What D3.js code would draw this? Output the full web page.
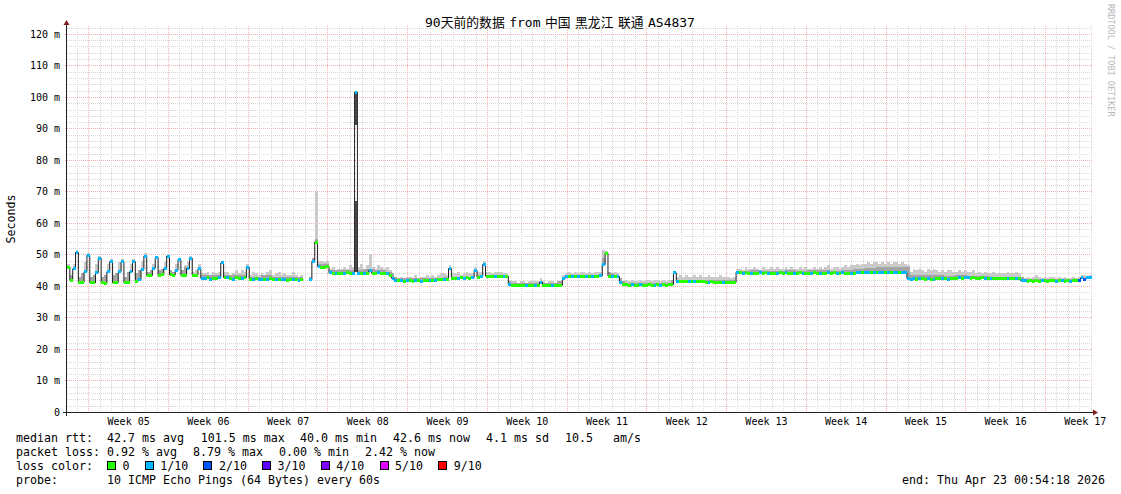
<!DOCTYPE html>
<html><head><meta charset="utf-8">
<script src="https://cdn.jsdelivr.net/npm/d3@7"></script>
<style>html,body{margin:0;padding:0;background:#fff;overflow:hidden}svg{display:block}</style>
</head><body>
<svg id="chart" width="1121" height="494"></svg>
<script>
// ================= DATA =================
const totalDays = 90;          // graph span (days)
const stepHours = 6;           // one sample every 6 hours
const firstWeekDay = 1.87;     // first week boundary, days after graph start

// median RTT (ms), 4 samples per day
const medianRtt = [
46.0,41.8,45.4,50.6, 41.2,41.2,44.5,49.8, 41.0,41.0,44.2,48.8, 41.0,40.8,44.5,47.7,
41.0,41.0,44.6,47.7, 41.0,41.2,44.5,47.7, 41.5,42.0,45.2,49.5, 43.3,43.3,45.6,49.0,
43.3,43.5,45.5,49.5, 43.5,43.4,45.0,48.3, 43.4,43.4,45.5,48.8, 43.4,43.4,45.4,42.4,
42.4,42.6,42.2,42.4, 42.4,42.6,47.3,42.6, 42.6,42.4,42.2,42.6, 42.4,42.4,42.6,46.0,
42.2,42.2,42.4,42.2, 42.2,42.0,42.2,42.4, 42.0,42.0,42.2,42.0, 42.0,41.8,42.0,42.2,
42.0,41.8,42.0,null, null,42.0,47.8,53.9, 46.2,46.0,46.0,46.2, 44.2,44.1,44.1,43.9,
44.1,44.0,44.2,44.0, 44.1,101.5,44.0,44.0, 44.0,44.1,45.0,44.1, 44.0,44.2,44.0,44.0,
44.0,43.4,42.4,41.8, 41.6,41.6,41.4,41.6, 41.6,41.4,41.6,41.6, 41.4,41.6,41.6,41.8,
41.6,41.8,42.0,42.0, 42.2,42.2,45.5,42.4, 42.4,42.4,42.6,42.4, 42.6,42.4,42.6,45.0,
42.8,43.0,46.8,43.1, 43.1,43.1,43.0,43.1, 43.1,43.0,43.1,40.5, 40.2,40.2,40.0,40.2,
40.2,40.0,40.2,40.2, 40.2,40.2,41.2,40.2, 40.0,40.2,40.2,40.0, 40.2,40.2,42.4,43.1,
43.1,43.0,43.1,43.1, 43.1,43.1,43.0,43.1, 43.1,43.0,43.1,43.2, 46.8,50.4,43.1,43.0,
43.1,43.0,41.0,40.4, 40.4,40.2,40.4,40.2, 40.2,40.4,40.2,40.2, 40.4,40.2,40.2,40.4,
40.2,40.4,40.2,40.4, 40.4,44.2,41.4,41.5, 41.5,41.5,41.4,41.5, 41.5,41.3,41.5,41.5,
41.2,41.2,41.4,41.2, 41.2,41.2,41.0,41.2, 41.2,41.0,41.2,44.4, 44.2,44.0,44.2,44.0,
44.0,43.9,44.0,44.2, 44.0,44.2,44.0,43.9, 44.0,44.0,44.2,44.0, 44.2,44.0,44.0,43.9,
44.0,44.2,44.0,44.0, 43.9,44.0,44.2,44.0, 44.0,44.0,43.9,44.2, 44.0,44.2,44.0,44.0,
44.2,44.0,44.0,43.9, 44.0,44.2,44.3,44.2, 44.3,44.4,44.2,44.3, 44.4,44.3,44.4,44.3,
44.3,44.4,44.3,44.4, 44.3,44.3,44.2,42.3, 42.1,42.3,42.2,42.3, 42.3,42.1,42.3,42.2,
42.2,42.3,42.4,42.3, 42.3,42.2,42.3,42.4, 42.4,42.6,42.4,42.6, 42.6,42.5,42.6,42.4,
42.4,42.6,42.5,42.4, 42.3,42.4,42.3,42.3, 42.4,42.3,42.4,42.3, 42.3,42.4,42.3,41.6,
41.6,41.4,41.6,41.5, 41.6,41.5,41.6,41.6, 41.4,41.6,41.6,41.5, 41.6,41.6,41.4,41.6,
41.5,41.6,41.6,41.8, 42.6,42.2,42.6,42.6
];

// top of the smoke (highest ping, ms), 4 samples per day
const smokeTop = [
47.0,43.5,47.0,51.5, 43.0,44.0,47.5,50.5, 43.0,43.5,47.0,49.5, 43.0,43.5,47.0,48.5,
43.5,44.0,47.5,48.5, 43.0,44.5,47.0,48.5, 44.0,45.0,48.0,50.5, 44.5,45.0,47.0,49.5,
45.0,45.5,47.5,50.0, 45.0,44.5,47.0,49.0, 45.0,46.5,47.5,49.5, 44.5,45.0,47.0,44.0,
44.0,44.5,43.5,44.5, 44.0,44.5,48.0,44.5, 44.5,43.5,44.0,45.0, 44.0,45.0,44.5,47.0,
43.5,44.5,44.0,43.5, 44.0,43.5,44.5,45.0, 43.5,44.0,44.5,43.5, 44.0,43.5,43.5,44.5,
43.5,43.0,43.5,null, null,43.0,49.0,70.0, 48.0,48.0,47.5,48.0, 45.5,46.0,45.0,45.5,
45.5,46.0,45.5,46.5, 46.0,101.8,46.0,47.0, 45.5,46.5,50.2,46.0, 45.5,46.5,46.0,45.5,
46.0,45.0,44.0,43.0, 42.5,43.0,42.5,43.0, 43.0,42.5,43.5,42.5, 43.0,43.0,43.5,43.0,
43.5,43.0,43.5,44.0, 44.0,43.5,46.5,44.0, 44.0,44.5,43.5,44.0, 44.5,44.0,44.0,46.0,
44.5,44.5,48.0,44.5, 44.5,44.0,44.5,44.5, 44.5,44.0,44.0,41.5, 41.5,41.5,41.0,41.5,
41.5,41.0,41.5,41.5, 41.5,41.5,42.5,41.5, 41.0,41.5,41.5,41.0, 41.5,41.5,43.5,44.0,
44.5,44.0,44.5,44.0, 44.5,44.5,44.0,44.5, 44.0,44.5,44.5,44.5, 51.5,51.0,44.5,44.0,
44.5,44.0,42.5,41.5, 42.0,41.5,42.0,41.5, 41.5,42.0,41.5,42.0, 42.0,41.5,42.0,42.0,
41.5,42.0,41.5,42.0, 42.0,44.5,43.0,43.5, 43.0,43.5,43.0,43.0, 43.5,43.0,43.5,43.0,
43.0,43.5,43.0,43.0, 43.0,43.5,43.0,43.0, 43.0,42.5,43.0,45.5, 45.5,45.0,46.0,45.5,
45.5,46.0,45.5,45.0, 46.0,45.5,45.5,46.0, 45.5,46.0,45.5,45.5, 46.0,45.5,46.0,45.5,
45.5,46.0,45.5,46.0, 45.5,45.5,46.0,45.5, 46.0,45.5,46.0,46.5, 45.5,46.0,46.0,45.5,
46.0,46.5,46.0,46.5, 46.5,47.0,46.5,47.0, 47.0,47.5,47.0,47.5, 47.5,47.0,47.5,47.0,
47.5,47.0,47.5,47.5, 47.0,47.5,47.0,46.5, 44.5,45.5,45.0,45.5, 45.0,44.5,45.5,45.0,
45.5,45.0,44.5,45.0, 44.5,45.0,45.0,44.5, 44.5,45.0,44.5,45.0, 44.5,44.5,45.0,44.0,
44.5,44.0,44.5,44.0, 44.0,44.5,44.0,44.0, 44.0,44.0,44.5,44.0, 44.0,44.5,44.0,43.0,
42.5,43.0,42.5,43.0, 43.5,43.0,42.5,43.0, 42.5,43.0,43.0,42.5, 43.0,42.5,43.0,42.5,
42.5,43.0,42.5,43.0, 43.5,43.5,43.0,43.5
];

// dense core of the smoke (ms), one value per day
const smokeCore = [
44.0,44.5,44.0,44.0,44.0,44.5,45.0,45.5,46.0,45.5,46.0,
43.5,43.5,43.5,43.5,43.5,43.0,43.5,43.0,43.0,43.0,
55.0,47.0,45.0,45.0,45.0,45.5,45.0,44.5,
42.5,42.5,42.5,42.5,43.0,43.0,43.0,43.5,43.5,43.5,
41.0,41.0,41.0,41.0,41.5,
43.5,43.5,43.5,49.0,43.5,
41.0,41.0,41.0,41.0,42.0,42.0,42.0,42.0,42.0,42.0,
44.8,45.0,44.8,44.8,45.0,44.8,45.0,45.0,44.8,45.0,45.5,45.8,46.0,46.0,46.0,
43.5,43.5,43.5,43.2,43.5,43.2,43.2,43.0,43.0,43.0,
42.2,42.2,42.2,42.2,42.2,42.5
];

// smoke that lies below the median during the 101.5 ms spike: [sample, low ms, high ms]
const spikeSmoke = [[101, 44.5, 67.0], [101, 91.0, 101.5]];

// lost pings out of 10, 4 samples per day
const lossCount = [
0,0,1,1, 0,0,1,1, 0,0,1,1, 0,0,1,1, 0,0,1,1, 0,0,1,1, 0,1,1,1, 0,0,1,1,
0,0,1,1, 0,0,1,1, 0,0,1,1, 0,0,1,1, 1,0,1,0, 0,1,1,0, 1,0,1,0, 0,1,0,1,
0,1,0,1, 1,0,1,0, 0,1,0,1, 1,0,0,1, 0,1,0,0, 0,1,1,0, 1,0,0,0, 1,0,1,0,
0,1,0,0, 1,1,1,0, 1,0,1,0, 0,1,0,0, 1,0,1,1, 0,1,0,1, 0,0,1,0, 1,0,0,1,
0,1,0,0, 1,0,1,0, 0,1,0,1, 0,0,1,1, 0,1,1,0, 0,0,1,0, 0,1,0,1, 0,0,0,0,
0,1,0,0, 1,0,1,0, 0,0,1,0, 0,0,1,1, 0,1,0,1, 0,0,1,0, 1,0,0,1, 1,0,0,1,
0,1,1,0, 0,0,1,0, 0,1,0,0, 0,0,1,0, 1,0,0,0, 0,1,1,0, 0,0,1,0, 1,0,0,0,
0,1,0,0, 0,0,1,0, 0,0,0,1, 0,1,0,0, 1,0,0,1, 0,0,1,0, 0,1,0,0, 1,0,0,1,
0,0,1,0, 0,1,0,0, 1,0,0,1, 0,0,1,0, 1,0,0,1, 0,1,1,0, 1,1,0,1, 0,1,1,0,
1,0,1,1, 0,1,1,1, 1,1,0,1, 0,0,1,0, 1,0,0,1, 0,1,0,0, 0,1,0,1, 1,0,0,0,
0,0,1,0, 1,0,0,0, 0,0,1,0, 0,1,0,1, 1,0,0,0, 0,0,1,0, 0,0,0,1, 0,1,0,0,
1,0,0,2, 1,2,1,1
];

const lossThresholds = [0, 1, 2, 3, 4, 5, 9];
const lossLabels = ["0", "1/10", "2/10", "3/10", "4/10", "5/10", "9/10"];
const lossColors = ["#26ff00", "#00b8ff", "#0059ff", "#5e00ff", "#7e00ff", "#dd00ff", "#ff0000"];

const yTickValues = [0, 10, 20, 30, 40, 50, 60, 70, 80, 90, 100, 110, 120];
const yTickLabels = ["0", "10 m", "20 m", "30 m", "40 m", "50 m", "60 m", "70 m", "80 m", "90 m", "100 m", "110 m", "120 m"];
const weekLabels = ["Week 05", "Week 06", "Week 07", "Week 08", "Week 09", "Week 10", "Week 11",
                    "Week 12", "Week 13", "Week 14", "Week 15", "Week 16", "Week 17"];

const titleParts = [["90", "lat"], ["天前的数据", "cjk"], [" ", "sp"], ["from", "lat"], [" ", "sp"], ["中国", "cjk"], [" ", "sp"],
                    ["黑龙江", "cjk"], [" ", "sp"], ["联通", "cjk"], [" ", "sp"], ["AS4837", "lat"]];
const yAxisTitle = "Seconds";
const rttLegend = ["42.7 ms avg", "101.5 ms max", "40.0 ms min", "42.6 ms now", "4.1 ms sd", "10.5", "am/s"];
const lossLegend = ["0.92 % avg", "8.79 % max", "0.00 % min", "2.42 % now"];
const probeText = "10 ICMP Echo Pings (64 Bytes) every 60s";
const endText = "end: Thu Apr 23 00:54:18 2026";
const watermark = "RRDTOOL / TOBI OETIKER";

// ================= LAYOUT =================
const MONO = "'DejaVu Sans Mono', monospace";
const CJK = "'Noto Sans CJK SC', 'DejaVu Sans Mono', sans-serif";
const plot = {left: 67, right: 1092, top: 26, bottom: 412};
const yMax = 122.5;
const legendSize = 11.63, charW = 7.0;

const svg = d3.select("#chart");
svg.append("rect").attr("width", 1121).attr("height", 494).attr("fill", "#fff");

const x = d3.scaleLinear().domain([0, totalDays]).range([plot.left, plot.right]);
const y = d3.scaleLinear().domain([0, yMax]).range([plot.bottom, plot.top]);
const stepDays = stepHours / 24;
const px = v => Math.round(v) + 0.5;

// ---------- grid ----------
const grid = svg.append("g").attr("shape-rendering", "crispEdges");
const minorY = d3.range(2, yMax, 2).filter(v => v % 10 !== 0);
const majorY = yTickValues.filter(v => v > 0);
const majorX = d3.range(firstWeekDay, totalDays, 7);
const minorX = d3.range(firstWeekDay - 1, totalDays, 1).filter(d => d > 0 && !majorX.some(m => Math.abs(m - d) < 1e-6));
const minorCol = "#d9d9d9", majorCol = "#f3b0b0";

grid.selectAll(".hmin").data(minorY).join("line")
  .attr("x1", plot.left).attr("x2", plot.right).attr("y1", d => px(y(d))).attr("y2", d => px(y(d)))
  .attr("stroke", minorCol).attr("stroke-dasharray", "1,1");
grid.selectAll(".vmin").data(minorX).join("line")
  .attr("x1", d => px(x(d))).attr("x2", d => px(x(d))).attr("y1", plot.top).attr("y2", plot.bottom)
  .attr("stroke", minorCol).attr("stroke-dasharray", "1,1");
grid.selectAll(".hmaj").data(majorY).join("line")
  .attr("x1", plot.left - 2).attr("x2", plot.right).attr("y1", d => px(y(d))).attr("y2", d => px(y(d)))
  .attr("stroke", majorCol).attr("stroke-dasharray", "1,1");
grid.selectAll(".vmaj").data(majorX).join("line")
  .attr("x1", d => px(x(d))).attr("x2", d => px(x(d))).attr("y1", plot.top).attr("y2", plot.bottom + 2)
  .attr("stroke", majorCol).attr("stroke-dasharray", "1,1");

// ---------- samples ----------
const samples = medianRtt.map((v, i) => ({
  t0: i * stepDays, t1: (i + 1) * stepDays, v,
  hi: smokeTop[i], core: smokeCore[Math.floor(i * stepDays)], loss: lossCount[i]
}));
const valid = samples.filter(s => s.v != null);

// smoke (outer, light)
const smoke = svg.append("g").attr("shape-rendering", "crispEdges");
smoke.selectAll(".so").data(valid.filter(s => s.hi != null && s.hi > s.v)).join("rect")
  .attr("x", s => x(s.t0)).attr("width", s => x(s.t1) - x(s.t0))
  .attr("y", s => y(s.hi)).attr("height", s => y(s.v) - y(s.hi) + 1)
  .attr("fill", "#cacaca");
// smoke (core, darker)
smoke.selectAll(".si").data(valid.filter(s => Math.min(s.core, s.hi) > s.v + 0.4)).join("rect")
  .attr("x", s => x(s.t0)).attr("width", s => x(s.t1) - x(s.t0))
  .attr("y", s => y(Math.min(s.core, s.hi))).attr("height", s => y(s.v) - y(Math.min(s.core, s.hi)) + 1)
  .attr("fill", "#a4a4a4");
// smoke of the big spike
smoke.selectAll(".ss").data(spikeSmoke).join("rect")
  .attr("x", d => x(samples[d[0]].t0)).attr("width", d => x(samples[d[0]].t1) - x(samples[d[0]].t0))
  .attr("y", d => y(d[2])).attr("height", d => y(d[1]) - y(d[2]))
  .attr("fill", "#4a4a4a");

// median line (stepped)
const pts = [];
samples.forEach(s => { pts.push({t: s.t0, v: s.v}); pts.push({t: s.t1, v: s.v}); });
svg.append("path").datum(pts)
  .attr("d", d3.line().defined(p => p.v != null).x(p => x(p.t)).y(p => y(p.v)))
  .attr("fill", "none").attr("stroke", "#202020").attr("stroke-width", 1);

// loss-coloured band around the median
const lossColor = n => { let k = 0; lossThresholds.forEach((t, i) => { if (n >= t) k = i; }); return lossColors[k]; };
svg.append("g").attr("shape-rendering", "crispEdges").selectAll("rect").data(valid).join("rect")
  .attr("x", s => x(s.t0)).attr("width", s => x(s.t1) - x(s.t0))
  .attr("y", s => y(s.v) - 1.5).attr("height", 3)
  .attr("fill", s => lossColor(s.loss));

// ---------- axes ----------
const yAxis = svg.append("g").attr("transform", `translate(${plot.left},0)`)
  .call(d3.axisLeft(y).tickValues(yTickValues).tickFormat((d, i) => yTickLabels[i]).tickSize(0).tickPadding(7));
yAxis.select(".domain").remove();
yAxis.selectAll("text").attr("font-family", MONO).attr("font-size", 10).attr("fill", "#000");

const weekCenters = weekLabels.map((w, i) => firstWeekDay + 7 * i + 3.5);
const xAxis = svg.append("g").attr("transform", `translate(0,${plot.bottom})`)
  .call(d3.axisBottom(x).tickValues(weekCenters).tickFormat((d, i) => weekLabels[i]).tickSize(0).tickPadding(5.4));
xAxis.select(".domain").remove();
xAxis.selectAll("text").attr("font-family", MONO).attr("font-size", 10).attr("fill", "#000");

const axisCol = "#1f1f1f", arrowCol = "#7f1f1f";
svg.append("line").attr("x1", plot.left - 4).attr("x2", plot.right + 2).attr("y1", plot.bottom + 0.5).attr("y2", plot.bottom + 0.5)
  .attr("stroke", axisCol).attr("shape-rendering", "crispEdges");
svg.append("line").attr("x1", plot.left - 0.5).attr("x2", plot.left - 0.5).attr("y1", plot.bottom + 4).attr("y2", plot.top - 3)
  .attr("stroke", axisCol).attr("shape-rendering", "crispEdges");
svg.append("path").attr("d", `M${plot.right + 1},${plot.bottom - 2.5}L${plot.right + 6},${plot.bottom + 0.5}L${plot.right + 1},${plot.bottom + 3.5}Z`).attr("fill", arrowCol);
svg.append("path").attr("d", `M${plot.left - 3.5},${plot.top - 1}L${plot.left - 0.5},${plot.top - 6}L${plot.left + 2.5},${plot.top - 1}Z`).attr("fill", arrowCol);

// ---------- title & labels ----------
const title = svg.append("text").attr("x", 560).attr("y", 26.5).attr("text-anchor", "middle").attr("fill", "#000")
  .attr("style", "white-space:pre");
titleParts.forEach(([s, kind]) => {
  title.append("tspan").text(s)
    .attr("font-family", kind === "lat" ? MONO : CJK)
    .attr("font-size", kind === "lat" ? 13 : (kind === "sp" ? 20 : 12.8));
});

svg.append("text").text(yAxisTitle).attr("transform", `translate(15,${(plot.top + plot.bottom) / 2}) rotate(-90)`)
  .attr("text-anchor", "middle").attr("font-family", MONO).attr("font-size", legendSize).attr("fill", "#000");

svg.append("text").text(watermark).attr("transform", "translate(1108,4) rotate(90)")
  .attr("font-family", MONO).attr("font-size", 8.5).attr("fill", "#b8b8b8");

// ---------- legend ----------
const rows = [441.5, 455.5, 469.5, 483.5];
const L = svg.append("g").attr("font-family", MONO).attr("font-size", legendSize).attr("fill", "#000");
const put = (xx, yy, s, anchor) => L.append("text").attr("x", xx).attr("y", yy).attr("text-anchor", anchor || "start").text(s);

put(16, rows[0], "median rtt:");
const rttX = [107, 200.7, 300, 393, 486, 565, 613];
rttLegend.forEach((s, k) => put(rttX[k], rows[0], s));

put(16, rows[1], "packet loss:");
const lossX = [107, 193, 279, 365];
lossLegend.forEach((s, k) => put(lossX[k], rows[1], s));

put(16, rows[2], "loss color:");
let bx = 107;
lossLabels.forEach((lab, k) => {
  L.append("rect").attr("x", bx + 0.5).attr("y", rows[2] - 8.5).attr("width", 8).attr("height", 8)
    .attr("fill", lossColors[k]).attr("stroke", "#000").attr("stroke-width", 1).attr("shape-rendering", "crispEdges");
  put(bx + 15.5, rows[2], lab);
  bx = bx + 15.5 + lab.length * charW + 15.2;
});

put(16, rows[3], "probe:");
put(107, rows[3], probeText);
put(1105, rows[3], endText, "end");
</script>
</body></html>
